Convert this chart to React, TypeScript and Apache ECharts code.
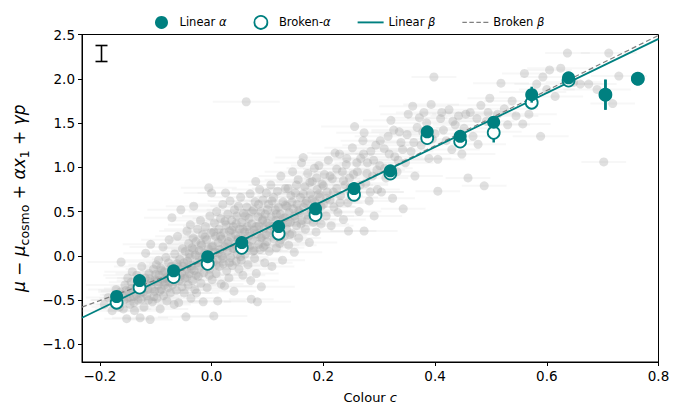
import React, { useEffect, useRef } from "react";
import * as echarts from "echarts";

const TEAL = "#008080";

const xTicks = [-0.2, 0, 0.2, 0.4, 0.6, 0.8];
const yTicks = [-1, -0.5, 0, 0.5, 1, 1.5, 2, 2.5];

const binColour = [-0.17, -0.129, -0.068, -0.007, 0.054, 0.12, 0.186, 0.255, 0.32, 0.386, 0.445, 0.505, 0.573, 0.639, 0.705, 0.763];
const linearAlpha = [-0.46, -0.28, -0.17, -0.01, 0.15, 0.33, 0.53, 0.76, 0.96, 1.4, 1.35, 1.51, 1.82, 2.01, 1.82, 2.0];
const linearAlphaErr = [0.04, 0.04, 0.03, 0.03, 0.03, 0.03, 0.03, 0.04, 0.05, 0.05, 0.05, 0.06, 0.09, 0.06, 0.17, 0.05];
const brokenAlpha = [-0.53, -0.36, -0.24, -0.09, 0.09, 0.25, 0.46, 0.69, 0.93, 1.33, 1.29, 1.39, 1.73, 1.98, 1.82, 2.0];
const brokenAlphaErr = [0.04, 0.04, 0.03, 0.03, 0.03, 0.03, 0.03, 0.04, 0.05, 0.05, 0.05, 0.11, 0.06, 0.06, 0.17, 0.05];

const linearBeta = [[-0.232, -0.70], [0.8, 2.45]];
const brokenBeta = [[-0.232, -0.58], [-0.05, -0.158], [0.8, 2.49]];

// [colour c, residual, colour error]
const sample = [
  [-0.192,-0.55,0.05],[-0.185,-0.47,0.04],[-0.178,-0.62,0.06],[-0.171,-0.38,0.05],[-0.168,-0.52,0.03],[-0.162,-0.07,0.06],[-0.160,-0.44,0.04],[-0.158,-0.60,0.05],[-0.155,-0.33,0.07],[-0.152,-0.71,0.04],[-0.151,-0.48,0.05],[-0.150,-0.25,0.04],
  [-0.148,-0.40,0.05],[-0.146,-0.55,0.06],[-0.144,-0.30,0.04],[-0.142,-0.18,0.05],[-0.140,-0.46,0.03],[-0.138,-0.62,0.05],[-0.136,-0.36,0.04],[-0.134,-0.22,0.06],[-0.132,-0.50,0.05],[-0.130,-0.28,0.04],[-0.128,-0.70,0.05],[-0.127,-0.42,0.03],[-0.125,-0.12,0.05],[-0.123,-0.33,0.04],[-0.121,-0.58,0.06],[-0.119,-0.25,0.05],[-0.118,0.03,0.04],[-0.116,-0.45,0.05],[-0.114,-0.38,0.03],[-0.112,-0.20,0.06],[-0.110,-0.72,0.04],[-0.109,0.13,0.05],[-0.108,-0.30,0.05],[-0.106,-0.52,0.04],[-0.104,-0.15,0.05],[-0.102,-0.40,0.06],[-0.101,-0.27,0.04],
  [-0.099,-0.10,0.05],[-0.098,-0.48,0.04],[-0.096,-0.33,0.05],[-0.095,-0.05,0.06],[-0.094,-0.22,0.04],[-0.092,-0.60,0.05],[-0.091,-0.14,0.03],[-0.090,-0.38,0.05],[-0.088,-0.27,0.04],[-0.087,0.10,0.06],[-0.086,-0.45,0.05],[-0.084,-0.18,0.04],[-0.083,-0.30,0.05],[-0.082,-0.02,0.04],[-0.080,-0.51,0.06],[-0.079,-0.24,0.03],[-0.078,-0.36,0.05],[-0.077,-0.08,0.04],[-0.076,0.18,0.05],[-0.074,-0.42,0.04],[-0.073,-0.20,0.06],[-0.072,-0.12,0.05],[-0.071,0.43,0.05],[-0.070,-0.33,0.04],[-0.068,-0.26,0.05],[-0.067,-0.55,0.03],[-0.066,0.02,0.05],[-0.064,-0.16,0.04],[-0.063,-0.39,0.06],[-0.062,-0.09,0.05],[-0.061,0.22,0.04],[-0.059,-0.53,0.05],[-0.058,-0.28,0.04],[-0.057,-0.04,0.05],[-0.055,0.52,0.06],[-0.054,-0.19,0.04],[-0.053,-0.35,0.05],[-0.052,0.08,0.04],[-0.051,-0.12,0.05],
  [-0.049,-0.42,0.05],[-0.048,-0.25,0.04],[-0.047,0.05,0.06],[-0.046,-0.69,0.05],[-0.045,-0.15,0.04],[-0.044,0.28,0.05],[-0.043,-0.06,0.03],[-0.042,-0.33,0.05],[-0.041,0.14,0.04],[-0.040,-0.20,0.06],[-0.039,-0.02,0.05],[-0.038,0.35,0.04],[-0.037,-0.48,0.05],[-0.036,-0.11,0.04],[-0.035,0.09,0.05],[-0.034,-0.28,0.06],[-0.033,0.20,0.04],[-0.032,0.56,0.05],[-0.031,-0.17,0.04],[-0.030,-0.38,0.05],[-0.029,0.01,0.03],[-0.028,0.16,0.05],[-0.027,-0.42,0.04],[-0.026,-0.08,0.05],[-0.025,0.30,0.06],[-0.024,-0.23,0.04],[-0.022,0.06,0.05],[-0.021,-0.13,0.04],[-0.020,0.40,0.05],[-0.019,-0.31,0.04],[-0.018,0.12,0.06],[-0.017,-0.04,0.05],[-0.016,0.24,0.04],[-0.015,-0.52,0.05],[-0.014,-0.19,0.03],[-0.012,0.03,0.05],[-0.011,0.33,0.04],[-0.010,-0.10,0.05],[-0.009,0.18,0.06],[-0.008,-0.36,0.04],[-0.006,0.08,0.05],[-0.005,0.77,0.05],[-0.004,-0.15,0.04],[-0.003,0.45,0.05],[-0.002,-0.02,0.04],[-0.001,0.26,0.06],
  [0.000,0.71,0.05],[0.001,-0.27,0.04],[0.002,0.11,0.05],[0.003,-0.07,0.04],[0.004,-0.68,0.06],[0.005,0.37,0.05],[0.006,0.04,0.04],[0.007,0.22,0.05],[0.008,-0.20,0.04],[0.009,0.50,0.05],[0.010,-0.04,0.03],[0.011,-0.51,0.05],[0.012,0.15,0.04],[0.013,0.30,0.05],[0.014,-0.12,0.06],[0.015,0.07,0.04],[0.016,0.42,0.05],[0.017,-0.32,0.04],[0.018,0.19,0.05],[0.019,0.00,0.04],[0.020,0.58,0.06],[0.021,-0.09,0.05],[0.022,0.26,0.04],[0.023,-0.34,0.05],[0.024,0.10,0.04],[0.025,0.71,0.05],[0.026,0.35,0.04],[0.027,-0.17,0.05],[0.028,0.05,0.06],[0.029,0.47,0.04],[0.030,0.16,0.05],[0.031,-0.25,0.04],[0.032,0.28,0.05],[0.033,0.62,0.04],[0.034,-0.02,0.05],[0.035,0.21,0.06],[0.036,0.40,0.04],[0.037,-0.11,0.05],[0.038,0.08,0.04],[0.039,0.33,0.05],[0.040,-0.40,0.04],[0.041,0.52,0.05],[0.042,0.13,0.06],[0.043,0.24,0.04],[0.044,-0.06,0.05],[0.045,0.45,0.04],[0.046,0.02,0.05],[0.047,0.18,0.04],[0.048,0.56,0.05],[0.049,-0.15,0.06],
  [0.050,0.30,0.05],[0.051,0.09,0.04],[0.052,0.66,0.05],[0.053,-0.05,0.04],[0.054,0.38,0.05],[0.055,0.20,0.06],[0.056,-0.22,0.04],[0.057,0.48,0.05],[0.058,0.14,0.04],[0.059,0.27,0.05],[0.060,0.02,0.04],[0.062,1.74,0.06],[0.063,0.55,0.05],[0.064,0.33,0.04],[0.065,-0.10,0.05],[0.066,0.22,0.04],[0.067,0.42,0.05],[0.068,0.11,0.06],[0.069,0.70,0.04],[0.070,-0.28,0.05],[0.071,-0.49,0.04],[0.072,0.36,0.05],[0.073,0.18,0.04],[0.074,0.05,0.05],[0.075,0.52,0.06],[0.076,0.29,0.04],[0.077,-0.03,0.05],[0.078,0.61,0.04],[0.079,0.84,0.05],[0.080,-0.20,0.04],[0.081,0.25,0.05],[0.082,-0.52,0.06],[0.083,0.44,0.04],[0.084,0.13,0.05],[0.085,0.34,0.04],[0.086,0.75,0.05],[0.087,0.07,0.04],[0.088,0.50,0.05],[0.089,-0.35,0.06],[0.090,0.21,0.04],[0.091,0.40,0.05],[0.092,0.63,0.04],[0.093,0.10,0.05],[0.094,0.31,0.04],[0.095,-0.08,0.05],[0.096,0.47,0.06],[0.097,0.24,0.04],[0.098,0.71,0.05],[0.099,0.16,0.04],
  [0.100,0.37,0.05],[0.102,0.58,0.04],[0.103,0.05,0.05],[0.104,0.26,0.06],[0.106,0.80,0.04],[0.107,0.44,0.05],[0.108,-0.12,0.04],[0.110,0.33,0.05],[0.111,0.66,0.04],[0.112,0.19,0.05],[0.114,0.52,0.06],[0.115,0.40,0.04],[0.116,0.09,0.05],[0.118,0.73,0.04],[0.119,0.28,0.05],[0.120,0.55,0.04],[0.122,0.14,0.05],[0.123,0.47,0.06],[0.124,0.90,0.04],[0.126,0.35,0.05],[0.127,-0.05,0.04],[0.128,0.61,0.05],[0.130,0.22,0.04],[0.131,0.43,0.05],[0.132,0.76,0.06],[0.134,0.30,0.04],[0.135,0.56,0.05],[0.137,0.76,0.04],[0.138,0.12,0.05],[0.139,0.49,0.04],[0.141,0.38,0.05],[0.142,0.68,0.06],[0.144,0.25,0.04],[0.145,0.95,0.05],[0.146,0.53,0.04],[0.148,0.04,0.05],[0.149,0.42,0.04],
  [0.150,0.71,0.05],[0.152,0.34,0.04],[0.153,0.58,0.05],[0.155,0.86,0.06],[0.156,0.20,0.04],[0.158,0.49,0.05],[0.159,0.66,0.04],[0.161,1.05,0.05],[0.162,0.40,0.04],[0.164,1.11,0.05],[0.165,0.55,0.06],[0.167,0.78,0.04],[0.168,0.30,0.05],[0.170,0.62,0.04],[0.172,0.93,0.05],[0.173,0.46,0.04],[0.175,0.15,0.05],[0.177,0.70,0.06],[0.178,0.52,0.04],[0.180,0.84,0.05],[0.182,0.38,0.04],[0.184,0.99,0.05],[0.185,0.61,0.04],[0.187,0.27,0.05],[0.189,0.75,0.06],[0.190,0.48,0.04],[0.192,1.02,0.05],[0.194,0.66,0.04],[0.196,0.36,0.05],[0.198,0.81,0.04],
  [0.200,0.58,0.05],[0.202,0.92,0.04],[0.205,0.45,0.05],[0.207,0.72,0.06],[0.209,1.08,0.04],[0.212,0.63,0.05],[0.214,0.34,0.04],[0.216,0.87,0.05],[0.219,0.55,0.04],[0.221,1.16,0.05],[0.224,0.76,0.06],[0.226,0.49,0.04],[0.229,1.15,0.05],[0.231,0.68,0.04],[0.234,0.95,0.05],[0.236,0.41,0.04],[0.239,0.80,0.05],[0.241,1.03,0.06],[0.244,0.60,0.04],[0.245,0.28,0.05],[0.247,0.88,0.04],[0.249,0.71,0.05],
  [0.252,1.22,0.05],[0.256,1.46,0.06],[0.258,0.66,0.04],[0.261,0.95,0.05],[0.264,0.50,0.04],[0.267,1.10,0.05],[0.271,1.30,0.04],[0.273,1.39,0.05],[0.273,0.28,0.06],[0.276,0.82,0.04],[0.279,1.05,0.05],[0.282,0.62,0.04],[0.285,1.18,0.05],[0.288,0.90,0.04],[0.291,0.45,0.05],[0.294,1.25,0.06],[0.297,0.75,0.04],
  [0.301,1.02,0.05],[0.304,0.72,0.04],[0.309,1.21,0.05],[0.312,0.88,0.04],[0.316,1.35,0.06],[0.321,1.53,0.05],[0.324,0.65,0.04],[0.328,1.12,0.05],[0.332,0.95,0.04],[0.336,1.40,0.05],[0.339,1.28,0.06],[0.343,0.53,0.04],[0.347,1.05,0.05],
  [0.352,1.60,0.05],[0.357,1.18,0.04],[0.360,1.69,0.06],[0.364,0.90,0.05],[0.368,1.45,0.04],[0.372,1.56,0.05],[0.375,1.25,0.04],[0.380,1.62,0.05],[0.385,1.50,0.06],[0.389,1.10,0.04],[0.393,1.71,0.05],[0.398,2.02,0.04],[0.400,1.38,0.05],[0.405,0.73,0.04],[0.405,1.09,0.05],[0.410,1.55,0.06],[0.415,1.42,0.04],[0.420,1.30,0.05],[0.425,1.65,0.04],[0.430,1.20,0.05],[0.436,1.48,0.04],[0.442,1.58,0.05],[0.448,1.15,0.06],
  [0.452,1.44,0.05],[0.459,0.88,0.04],[0.463,1.62,0.05],[0.468,1.35,0.04],[0.477,1.26,0.05],[0.482,1.70,0.06],[0.488,0.79,0.04],[0.492,1.52,0.05],[0.498,1.78,0.04],[0.505,1.40,0.05],[0.512,1.60,0.04],[0.518,1.95,0.05],[0.524,1.66,0.06],[0.530,1.48,0.04],[0.538,1.75,0.05],[0.545,1.58,0.04],
  [0.557,1.49,0.05],[0.560,2.06,0.04],[0.568,1.60,0.05],[0.575,1.85,0.06],[0.582,1.94,0.04],[0.589,1.35,0.05],[0.593,2.02,0.04],[0.600,1.88,0.05],[0.605,2.10,0.04],[0.615,1.80,0.05],[0.625,2.12,0.06],[0.637,2.29,0.04],[0.648,1.96,0.05],[0.660,1.94,0.04],[0.675,1.94,0.05],[0.690,1.88,0.06],[0.702,1.06,0.04],[0.711,2.29,0.05],[0.718,1.72,0.04],[0.729,2.03,0.05],
  [-0.175,-0.50,0.04],[-0.165,-0.58,0.05],[-0.163,-0.41,0.04],[-0.157,-0.50,0.06],[-0.153,-0.39,0.05],[-0.147,-0.47,0.04],[-0.143,-0.37,0.05],[-0.139,-0.53,0.04],[-0.135,-0.44,0.06],[-0.131,-0.35,0.05],[-0.126,-0.49,0.04],[-0.122,-0.41,0.05],[-0.117,-0.32,0.04],[-0.113,-0.50,0.06],[-0.111,-0.26,0.05],[-0.107,-0.37,0.04],[-0.103,-0.46,0.05],[-0.100,-0.21,0.04],[-0.097,-0.29,0.05],[-0.093,-0.40,0.06],[-0.089,-0.17,0.04],[-0.085,-0.33,0.05],[-0.081,-0.25,0.04],[-0.075,-0.30,0.05],[-0.069,-0.18,0.06],[-0.065,-0.29,0.04],[-0.060,-0.13,0.05],[-0.056,-0.23,0.04],[-0.050,-0.08,0.05],[-0.044,-0.24,0.06],[-0.040,0.02,0.04],[-0.036,-0.15,0.05],[-0.032,0.07,0.04],[-0.028,-0.22,0.05],[-0.023,-0.01,0.06],[-0.019,0.14,0.04],[-0.015,-0.07,0.05],[-0.012,0.21,0.04],[-0.008,0.00,0.05],[-0.004,-0.22,0.06],
  [0.000,0.10,0.04],[0.004,0.27,0.05],[0.008,-0.10,0.04],[0.012,0.03,0.05],[0.016,0.22,0.06],[0.020,-0.03,0.04],[0.024,0.39,0.05],[0.028,0.14,0.04],[0.032,-0.08,0.05],[0.036,0.29,0.06],[0.040,0.08,0.04],[0.044,0.36,0.05],[0.048,0.20,0.04],[0.052,-0.01,0.05],[0.056,0.30,0.06],[0.060,0.45,0.04],[0.064,0.12,0.05],[0.068,0.27,0.04],[0.072,0.50,0.05],[0.076,0.06,0.06],[0.080,0.33,0.04],[0.084,0.58,0.05],[0.088,0.20,0.04],[0.092,0.41,0.05],[0.096,0.12,0.06],[0.100,0.52,0.04],[0.104,0.34,0.05],[0.108,0.62,0.04],[0.112,0.27,0.05],[0.116,0.47,0.06],[0.120,0.35,0.04],[0.124,0.18,0.05],[0.128,0.42,0.04],[0.132,0.57,0.05],[0.136,0.37,0.06],[0.140,0.24,0.04],[0.144,0.61,0.05],[0.148,0.45,0.04],
  [0.152,0.80,0.05],[0.156,0.51,0.06],[0.160,0.36,0.04],[0.164,0.70,0.05],[0.168,0.59,0.04],[0.172,0.41,0.05],[0.176,0.83,0.06],[0.180,0.64,0.04],[0.184,0.50,0.05],[0.188,0.88,0.04],[0.192,0.70,0.05],[0.196,0.56,0.06],[0.200,0.79,0.04],[0.206,0.65,0.05],[0.212,0.90,0.04],[0.218,0.72,0.05],[0.224,0.98,0.06],[0.230,0.60,0.04],[0.236,0.85,0.05],[0.242,1.10,0.04],[0.248,0.77,0.05],[0.254,0.92,0.06],[0.260,1.05,0.04],[0.266,0.80,0.05],[0.272,1.15,0.04],[0.278,0.93,0.05],[0.284,0.72,0.06],[0.290,1.08,0.04],[0.296,0.97,0.05],
  [0.302,1.30,0.04],[0.310,0.99,0.05],[0.318,1.15,0.06],[0.326,1.42,0.04],[0.334,1.08,0.05],[0.342,1.20,0.04],[0.350,1.37,0.05],[0.362,1.28,0.06],[0.378,1.40,0.04],[0.395,1.32,0.05],[0.412,1.62,0.04],[0.432,1.52,0.05],[0.455,1.60,0.06],[0.475,1.55,0.04],[0.495,1.62,0.05],
];

const FONT = "DejaVu Sans";

const SOLID_ICON = "path://M0,0L26,0L26,1.9L0,1.9Z";
const DASH_ICON = "path://M0,0h4.5v1.3h-4.5z M7,0h4.5v1.3h-4.5z M14,0h4.5v1.3h-4.5z M21,0h5v1.3h-5z";

function fmt(v: number) {
  const s = Math.abs(v).toFixed(1);
  return v < -1e-9 ? "\u2212" + s : s;
}

function vErrRender(params: any, api: any) {
  const c = api.value(0);
  const v = api.value(1);
  const e = api.value(2);
  const a = api.coord([c, v - e]);
  const b = api.coord([c, v + e]);
  return {
    type: "line",
    shape: { x1: a[0], y1: a[1], x2: b[0], y2: b[1] },
    style: { stroke: TEAL, lineWidth: 2.5 },
  };
}

function hErrRender(params: any, api: any) {
  const c = api.value(0);
  const v = api.value(1);
  const e = api.value(2);
  const a = api.coord([c - e, v]);
  const b = api.coord([c + e, v]);
  return {
    type: "line",
    shape: { x1: a[0], y1: a[1], x2: b[0], y2: b[1] },
    style: { stroke: "rgba(200,200,200,0.14)", lineWidth: 2 },
  };
}

export default function App() {
  const ref = useRef<HTMLDivElement>(null);
  useEffect(() => {
    if (!ref.current) return;
    const chart = echarts.init(ref.current, null, { renderer: "svg" });
    const filled = binColour.map((c, i) => [c, linearAlpha[i]]);
    const open = binColour.map((c, i) => [c, brokenAlpha[i]]);
    const filledErr = binColour.map((c, i) => [c, linearAlpha[i], linearAlphaErr[i]]);
    const openErr = binColour.map((c, i) => [c, brokenAlpha[i], brokenAlphaErr[i]]);
    const italicName = (n: string) => n.replace("\u03b1", "{i|\u03b1}").replace("\u03b2", "{i|\u03b2}");
    chart.setOption({
      animation: false,
      backgroundColor: "#fff",
      textStyle: { fontFamily: FONT },
      grid: { left: 82, right: 41.5, top: 34.5, bottom: 48, show: true, borderColor: "#000", borderWidth: 1, backgroundColor: "transparent" },
      legend: {
        top: 10,
        left: 150,
        itemWidth: 26,
        itemHeight: 13,
        itemGap: 27,
        textStyle: { fontFamily: FONT, fontSize: 11.5, color: "#000", rich: { i: { fontStyle: "italic", fontFamily: FONT, fontSize: 11.5 } } },
        formatter: italicName,
        data: [
          { name: "Linear \u03b1", icon: "circle" },
          { name: "Broken-\u03b1", icon: "circle", itemStyle: { color: "#fff", borderColor: TEAL, borderWidth: 1.8 } },
          { name: "Linear \u03b2", icon: SOLID_ICON, itemStyle: { color: TEAL, borderWidth: 0 } },
          { name: "Broken \u03b2", icon: DASH_ICON, itemStyle: { color: "#808080", borderWidth: 0 } },
        ],
      },
      xAxis: {
        type: "value",
        min: -0.232,
        max: 0.8,
        name: "Colour {i|c}",
        nameLocation: "middle",
        nameGap: 29,
        nameTextStyle: { fontFamily: FONT, fontSize: 13, color: "#000", rich: { i: { fontStyle: "italic", fontFamily: FONT, fontSize: 13 } } },
        axisLine: { show: true, onZero: false, lineStyle: { color: "#000", width: 1 } },
        axisTick: { show: true, length: 4, lineStyle: { color: "#000" }, customValues: xTicks },
        axisLabel: { color: "#000", fontSize: 13.5, fontFamily: FONT, margin: 7, customValues: xTicks, formatter: fmt },
        splitLine: { show: false },
      },
      yAxis: {
        type: "value",
        min: -1.2,
        max: 2.5,
        name: "{t|\u03bc \u2212 \u03bc}{s|cosmo}{t| + \u03b1x}{s|1}{t| + \u03b3p}",
        nameLocation: "middle",
        nameGap: 40,
        nameRotate: 90,
        nameTextStyle: {
          fontFamily: FONT,
          fontSize: 17,
          color: "#000",
          rich: {
            t: { fontFamily: FONT, fontSize: 17, fontStyle: "italic", verticalAlign: "top", lineHeight: 20 },
            s: { fontFamily: FONT, fontSize: 12.5, verticalAlign: "top", padding: [8, 0, 0, 0], lineHeight: 14 },
          },
        },
        axisLine: { show: true, onZero: false, lineStyle: { color: "#000", width: 1 } },
        axisTick: { show: true, length: 4, lineStyle: { color: "#000" }, customValues: yTicks },
        axisLabel: { color: "#000", fontSize: 13.5, fontFamily: FONT, margin: 7, customValues: yTicks, formatter: fmt },
        splitLine: { show: false },
      },
      graphic: [
        {
          type: "group",
          left: 93,
          top: 43,
          children: [
            { type: "line", shape: { x1: 6, y1: 0, x2: 6, y2: 16 }, style: { stroke: "#000", lineWidth: 1.6 } },
            { type: "line", shape: { x1: 0, y1: 0, x2: 12, y2: 0 }, style: { stroke: "#000", lineWidth: 1.6 } },
            { type: "line", shape: { x1: 0, y1: 16, x2: 12, y2: 16 }, style: { stroke: "#000", lineWidth: 1.6 } },
          ],
        },
      ],
      series: [
        { type: "custom", name: "xerr", renderItem: hErrRender, data: sample, z: 1, silent: true, clip: true },
        { type: "scatter", name: "sample", data: sample.map((p) => [p[0], p[1]]), symbolSize: 9, itemStyle: { color: "rgba(168,168,168,0.44)" }, z: 2, silent: true },
        { type: "line", name: "Broken \u03b2", data: brokenBeta, symbol: "none", lineStyle: { color: "#808080", width: 1.2, type: [5, 3] }, itemStyle: { color: "#808080" }, z: 3, silent: true },
        { type: "line", name: "Linear \u03b2", data: linearBeta, symbol: "none", lineStyle: { color: TEAL, width: 1.8 }, itemStyle: { color: TEAL }, z: 4, silent: true },
        { type: "custom", name: "openErr", renderItem: vErrRender, data: openErr, z: 5, silent: true },
        { type: "scatter", name: "Broken-\u03b1", data: open, symbolSize: 12, itemStyle: { color: "#fff", borderColor: TEAL, borderWidth: 1.8, opacity: 1 }, z: 6, silent: true },
        { type: "custom", name: "filledErr", renderItem: vErrRender, data: filledErr, z: 7, silent: true },
        { type: "scatter", name: "Linear \u03b1", data: filled, symbolSize: 13, itemStyle: { color: TEAL, opacity: 1 }, z: 8, silent: true },
      ],
    });
    return () => chart.dispose();
  }, []);
  return <div ref={ref} style={{ position: "fixed", left: 0, top: 0, width: 700, height: 410 }} />;
}
